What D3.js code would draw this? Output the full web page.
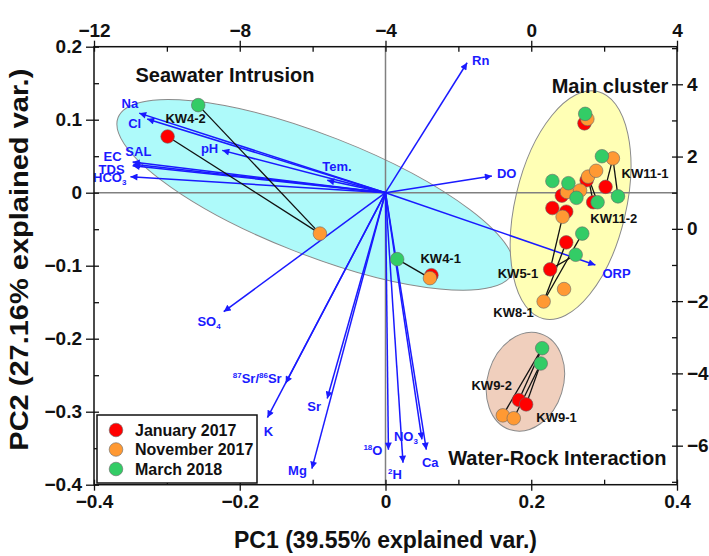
<!DOCTYPE html>
<html>
<head>
<meta charset="utf-8">
<script src="https://cdn.jsdelivr.net/npm/d3@7"></script>
<style>
  body { margin: 0; background: #fff; }
  svg { font-family: "Liberation Sans", Arial, sans-serif; font-weight: bold; }
</style>
</head>
<body>
<svg id="svg" width="709" height="556"></svg>
<script>
// loadings (PC1, PC2)
const vars = ["Rn", "DO", "ORP", "Tem.", "pH", "Na", "Cl", "SAL", "EC", "TDS", "HCO3", "SO4",
  "87Sr/86Sr", "K", "Sr", "Mg", "18O", "2H", "NO3", "Ca"];
const loadPC1 = [0.112, 0.146, 0.288, -0.080, -0.224, -0.338, -0.327, -0.346, -0.347, -0.347, -0.350, -0.222,
  -0.137, -0.162, -0.080, -0.101, 0.004, 0.024, 0.050, 0.056];
const loadPC2 = [0.178, 0.023, -0.099, 0.017, 0.058, 0.109, 0.101, 0.039, 0.042, 0.037, 0.022, -0.163,
  -0.261, -0.308, -0.282, -0.378, -0.352, -0.370, -0.338, -0.352];

// scores per campaign, one entry per well
const wells = ["KW4-2", "KW4-1", "KW11-1", "KW11-2", "KW5-1", "KW8-1", "KW9-2", "KW9-1", "W1", "W2", "W3", "W4", "W5"];
const jan2017PC1 = [-0.299, 0.063, 0.302, 0.285, 0.226, 0.248, 0.183, 0.193, 0.273, 0.276, 0.242, 0.229, 0.248];
const jan2017PC2 = [0.077, -0.113, 0.008, -0.013, -0.105, -0.068, -0.284, -0.290, 0.095, 0.017, -0.004, -0.021, -0.026];
const nov2017PC1 = [-0.090, 0.061, 0.312, 0.278, 0.243, 0.217, 0.161, 0.176, 0.277, 0.289, 0.249, 0.267, 0.245];
const nov2017PC2 = [-0.056, -0.117, 0.047, 0.022, -0.033, -0.149, -0.305, -0.309, 0.101, 0.030, 0.001, 0.003, -0.132];
const mar2018PC1 = [-0.257, 0.016, 0.319, 0.291, 0.261, 0.270, 0.215, 0.213, 0.274, 0.297, 0.229, 0.251, 0.262];
const mar2018PC2 = [0.120, -0.091, -0.005, -0.013, -0.085, -0.056, -0.213, -0.234, 0.108, 0.050, 0.016, 0.013, -0.007];

const seasons = ["January 2017", "November 2017", "March 2018"];
const seasonColors = ["#ff0000", "#ff9933", "#33cc66"];

// trajectories: well, from campaign, to campaign
const links = [
  ["KW4-2", 1, 2], ["KW4-2", 1, 0], ["KW4-1", 2, 1],
  ["KW11-1", 1, 0], ["KW11-1", 1, 2], ["KW11-2", 1, 0], ["KW11-2", 1, 2],
  ["KW5-1", 0, 1], ["KW5-1", 0, 2], ["KW8-1", 1, 0], ["KW8-1", 1, 2],
  ["KW9-2", 2, 0], ["KW9-2", 2, 1], ["KW9-1", 2, 0], ["KW9-1", 2, 1]
];

// groups: centre (PC1, PC2), semi-axes, tilt
const groups = ["Seawater Intrusion", "Main cluster", "Water-Rock Interaction"];
const groupCx = [-0.096, 0.254, 0.192];
const groupCy = [-0.003, -0.017, -0.259];
const groupA = [0.291, 0.076, 0.052];
const groupB = [0.082, 0.160, 0.069];
const groupTilt = [21.4, 13.4, 17.4];
const groupFill = ["#aefafa", "#ffffb5", "#f0cfbd"];

const xTicks = [-0.4, -0.2, 0, 0.2, 0.4];
const yTicks = [0.2, 0.1, 0, -0.1, -0.2, -0.3, -0.4];
const topTicks = [-12, -8, -4, 0, 4];
const rightTicks = [4, 2, 0, -2, -4, -6];

// label placement
const labelNudge = {
  "Rn": [5, 2, "start"], "DO": [5, 2, "start"], "ORP": [7, 13, "start"], "Tem.": [-5, -9, "start"],
  "pH": [-4, 3, "end"], "Na": [-1, -5, "end"], "Cl": [-6, 9, "end"], "SAL": [-8, -8, "start"],
  "EC": [-11, -1, "end"], "TDS": [-8, 8, "end"], "HCO3": [-4, 5, "end"], "SO4": [-3, 14, "end"],
  "87Sr/86Sr": [-4, 0, "end"], "K": [1, 18, "middle"], "Sr": [-13, 12, "middle"], "Mg": [-5, 6, "end"],
  "18O": [-6, 5, "end"], "2H": [-8, 16, "middle"], "NO3": [-4, 2, "end"], "Ca": [4, 17, "middle"]
};
const wellLabelAt = {
  "KW4-2": [-0.302, 0.0955], "KW4-1": [0.048, -0.0963], "KW11-1": [0.324, 0.020], "KW11-2": [0.281, -0.0415],
  "KW5-1": [0.154, -0.117], "KW8-1": [0.148, -0.170], "KW9-2": [0.118, -0.270], "KW9-1": [0.207, -0.314]
};
const groupLabelAt = [[-0.343, 0.152], [0.228, 0.137], [0.086, -0.373]];

const width = 709, height = 556;
const margin = { top: 46.7, right: 32, bottom: 71.3, left: 94 };
const x = d3.scaleLinear([-0.4, 0.4], [margin.left, width - margin.right]);
const y = d3.scaleLinear([-0.4, 0.2], [height - margin.bottom, margin.top]);
const xTop = d3.scaleLinear([-12, 4], x.range());
const yRight = d3.scaleLinear([-7.08, 5.04], y.range());

const svg = d3.select("#svg");
const blue = "#1a1aff";

// ellipses
groups.forEach((g, i) => {
  const rx = Math.abs(x(groupA[i]) - x(0));
  const ry = Math.abs(y(groupB[i]) - y(0));
  svg.append("ellipse")
    .attr("transform", `translate(${x(groupCx[i])},${y(groupCy[i])}) rotate(${groupTilt[i]})`)
    .attr("rx", rx).attr("ry", ry)
    .attr("fill", groupFill[i])
    .attr("stroke", "#8a8a8a").attr("stroke-width", 1);
});

// zero lines
svg.append("line").attr("x1", x(0)).attr("x2", x(0)).attr("y1", y(0.2)).attr("y2", y(-0.4))
  .attr("stroke", "#808080").attr("stroke-width", 1.5);
svg.append("line").attr("x1", x(-0.4)).attr("x2", x(0.4)).attr("y1", y(0)).attr("y2", y(0))
  .attr("stroke", "#808080").attr("stroke-width", 1.5);

// loading vectors
svg.append("defs").append("marker")
  .attr("id", "head").attr("viewBox", "0 0 10 10").attr("refX", 10).attr("refY", 5)
  .attr("markerUnits", "userSpaceOnUse").attr("markerWidth", 8).attr("markerHeight", 7)
  .attr("orient", "auto")
  .append("path").attr("d", "M0,0L10,5L0,10z").attr("fill", blue);

const loadings = vars.map((v, i) => ({ name: v, pc1: loadPC1[i], pc2: loadPC2[i] }));
svg.append("g").selectAll("line").data(loadings).join("line")
  .attr("x1", x(0)).attr("y1", y(0))
  .attr("x2", d => x(d.pc1)).attr("y2", d => y(d.pc2))
  .attr("stroke", blue).attr("stroke-width", 1.5)
  .attr("marker-end", "url(#head)");

const sub = { "HCO3": ["HCO", "3"], "SO4": ["SO", "4"], "NO3": ["NO", "3"] };
const lab = svg.append("g").attr("fill", blue).attr("font-size", 13);
loadings.forEach(d => {
  const [dx, dy, anchor] = labelNudge[d.name];
  const t = lab.append("text")
    .attr("x", x(d.pc1) + dx).attr("y", y(d.pc2) + dy)
    .attr("text-anchor", anchor);
  if (sub[d.name]) {
    t.append("tspan").text(sub[d.name][0]);
    t.append("tspan").attr("font-size", 8).attr("dy", 3).text(sub[d.name][1]);
  } else if (d.name === "87Sr/86Sr") {
    t.append("tspan").attr("font-size", 8).attr("dy", -5).text("87");
    t.append("tspan").attr("dy", 5).text("Sr/");
    t.append("tspan").attr("font-size", 8).attr("dy", -5).text("86");
    t.append("tspan").attr("dy", 5).text("Sr");
  } else if (d.name === "18O" || d.name === "2H") {
    t.append("tspan").attr("font-size", 8).attr("dy", -5).text(d.name.slice(0, -1));
    t.append("tspan").attr("dy", 5).text(d.name.slice(-1));
  } else {
    t.text(d.name);
  }
});

// scores
const pc1Sets = [jan2017PC1, nov2017PC1, mar2018PC1];
const pc2Sets = [jan2017PC2, nov2017PC2, mar2018PC2];
const pos = (well, s) => {
  const i = wells.indexOf(well);
  return [x(pc1Sets[s][i]), y(pc2Sets[s][i])];
};
svg.append("g").selectAll("line").data(links).join("line")
  .attr("x1", d => pos(d[0], d[1])[0]).attr("y1", d => pos(d[0], d[1])[1])
  .attr("x2", d => pos(d[0], d[2])[0]).attr("y2", d => pos(d[0], d[2])[1])
  .attr("stroke", "#111").attr("stroke-width", 1.3);

seasons.forEach((s, si) => {
  svg.append("g").selectAll("circle").data(wells).join("circle")
    .attr("cx", w => pos(w, si)[0]).attr("cy", w => pos(w, si)[1])
    .attr("r", 6.8)
    .attr("fill", seasonColors[si])
    .attr("stroke", "#666").attr("stroke-width", 0.6);
});

svg.append("g").attr("font-size", 13).attr("fill", "#111")
  .selectAll("text").data(Object.keys(wellLabelAt)).join("text")
  .attr("x", d => x(wellLabelAt[d][0])).attr("y", d => y(wellLabelAt[d][1]))
  .text(d => d);

svg.append("g").attr("font-size", 20).attr("fill", "#111")
  .selectAll("text").data(groups).join("text")
  .attr("x", (d, i) => x(groupLabelAt[i][0])).attr("y", (d, i) => y(groupLabelAt[i][1]))
  .text(d => d);

// axes
const axisStyle = g => {
  g.select(".domain").remove();
  g.selectAll("line").attr("stroke", "#111").attr("stroke-width", 1.3);
  g.selectAll("text").attr("font-size", 19).attr("font-weight", "bold").attr("fill", "#111")
    .attr("font-family", "'Liberation Sans', Arial, sans-serif");
};
const X0 = x.range()[0], X1 = x.range()[1], Y0 = y.range()[1], Y1 = y.range()[0];

svg.append("g").attr("transform", `translate(0,${Y1})`)
  .call(d3.axisBottom(x).tickValues(xTicks).tickSize(6).tickPadding(4).tickFormat(d3.format("")))
  .call(axisStyle);
svg.append("g").attr("transform", `translate(0,${Y1})`)
  .call(d3.axisBottom(x).ticks(8).tickSize(-5).tickFormat(""))
  .call(axisStyle);

svg.append("g").attr("transform", `translate(${X0},0)`)
  .call(d3.axisLeft(y).tickValues(yTicks).tickSize(8).tickPadding(4).tickFormat(d3.format("")))
  .call(axisStyle);
svg.append("g").attr("transform", `translate(${X0},0)`)
  .call(d3.axisLeft(y).ticks(12).tickSize(-5).tickFormat(""))
  .call(axisStyle);

svg.append("g").attr("transform", `translate(0,${Y0})`)
  .call(d3.axisTop(xTop).tickValues(topTicks).tickSize(6).tickPadding(4))
  .call(axisStyle);
svg.append("g").attr("transform", `translate(0,${Y0})`)
  .call(d3.axisTop(xTop).ticks(8).tickSize(-5).tickFormat(""))
  .call(axisStyle);

svg.append("g").attr("transform", `translate(${X1},0)`)
  .call(d3.axisRight(yRight).tickValues(rightTicks).tickSize(6).tickPadding(4))
  .call(axisStyle);
svg.append("g").attr("transform", `translate(${X1},0)`)
  .call(d3.axisRight(yRight).ticks(12).tickSize(-5).tickFormat(""))
  .call(axisStyle);

svg.append("rect").attr("x", X0).attr("y", Y0).attr("width", X1 - X0).attr("height", Y1 - Y0)
  .attr("fill", "none").attr("stroke", "#111").attr("stroke-width", 1.5);

// axis titles
svg.append("text").attr("x", (X0 + X1) / 2).attr("y", 548).attr("text-anchor", "middle")
  .attr("font-size", 23).attr("fill", "#111").text("PC1 (39.55% explained var.)");
svg.append("text").attr("transform", `translate(28,${(Y0 + Y1) / 2 - 6}) rotate(-90)`)
  .attr("text-anchor", "middle").attr("font-size", 25).attr("fill", "#111")
  .attr("textLength", 382).attr("lengthAdjust", "spacingAndGlyphs")
  .text("PC2 (27.16% explained var.)");

// legend
const leg = svg.append("g").attr("transform", "translate(97,415)");
leg.append("rect").attr("width", 160).attr("height", 68)
  .attr("fill", "#fff").attr("stroke", "#111").attr("stroke-width", 1.5);
leg.selectAll("circle").data(seasons).join("circle")
  .attr("cx", 19).attr("cy", (d, i) => 15 + i * 19.5).attr("r", 6.8)
  .attr("fill", (d, i) => seasonColors[i]).attr("stroke", "#666").attr("stroke-width", 0.6);
leg.selectAll("text").data(seasons).join("text")
  .attr("x", 38).attr("y", (d, i) => 20.5 + i * 19.5)
  .attr("font-size", 16).attr("fill", "#111").text(d => d);
</script>
</body>
</html>
